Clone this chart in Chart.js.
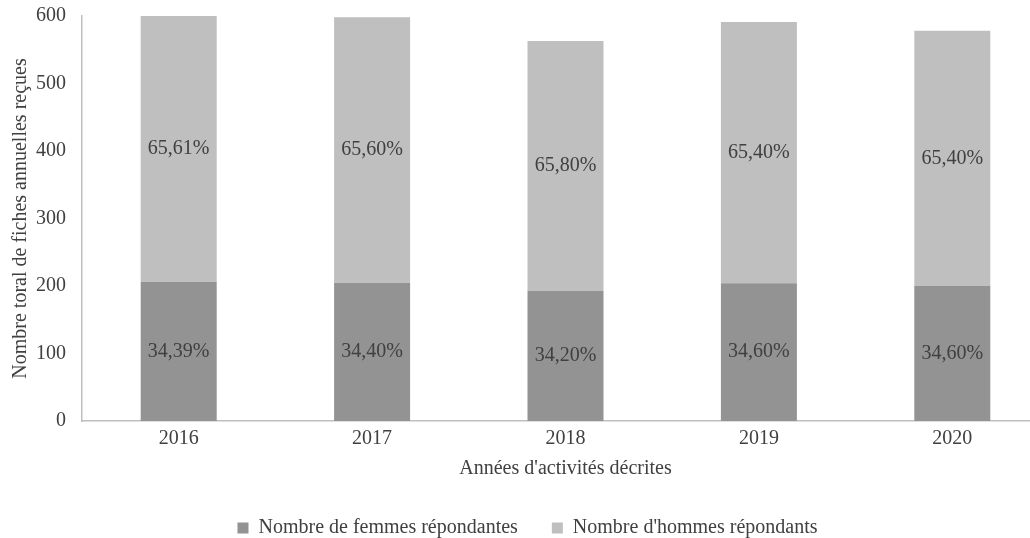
<!DOCTYPE html>
<html>
<head>
<meta charset="utf-8">
<script src="https://cdn.jsdelivr.net/npm/chart.js@4"></script>
<style>
	html, body { margin: 0; padding: 0; background: #fff; overflow: hidden; }
	#wrap { width: 1055px; height: 538px; }
</style>
</head>
<body>
<div id="wrap"><canvas id="myChart"></canvas></div>
<script>
const years = ['2016', '2017', '2018', '2019', '2020']
const femmes = [206, 205, 193, 204, 200]
const hommes = [394, 393, 370, 387, 378]
const femmesPct = ['34,39%', '34,40%', '34,20%', '34,60%', '34,60%']
const hommesPct = ['65,61%', '65,60%', '65,80%', '65,40%', '65,40%']
const yTicks = [0, 100, 200, 300, 400, 500, 600]

const textColor = '#404040'
const serif = 'Liberation Serif'

Chart.defaults.font.family = serif
Chart.defaults.font.size = 20
Chart.defaults.color = textColor

// draws the percentage in the middle of each bar segment
const segmentLabels = {
	id: 'segmentLabels',
	afterDatasetsDraw(chart) {
		const ctx = chart.ctx
		const texts = [femmesPct, hommesPct]
		ctx.save()
		ctx.font = '20px ' + serif
		ctx.fillStyle = textColor
		ctx.textAlign = 'center'
		ctx.textBaseline = 'middle'
		chart.data.datasets.forEach((ds, i) => {
			chart.getDatasetMeta(i).data.forEach((bar, j) => {
				ctx.fillText(texts[i][j], bar.x, (bar.y + bar.base) / 2)
			})
		})
		ctx.restore()
	},
}

const ctx1 = document.getElementById('myChart')

new Chart(ctx1, {
	type: 'bar',
	data: {
		labels: years,
		datasets: [
			{
				label: 'Nombre de femmes répondantes',
				data: femmes,
				backgroundColor: '#939393',
				barPercentage: 0.393,
				categoryPercentage: 1,
			},
			{
				label: "Nombre d'hommes répondants",
				data: hommes,
				backgroundColor: '#bfbfbf',
				barPercentage: 0.393,
				categoryPercentage: 1,
			},
		],
	},
	options: {
		responsive: true,
		maintainAspectRatio: false,
		animation: false,
		layout: {
			padding: { top: 16, left: 0, right: 0, bottom: -10 },
		},
		scales: {
			x: {
				stacked: true,
				grid: { display: false, drawTicks: false },
				border: { color: '#bfbfbf', width: 1.5 },
				ticks: { padding: 6, color: textColor },
				title: {
					display: true,
					text: "Années d'activités décrites",
					color: textColor,
					padding: { top: 0, bottom: 3 },
				},
			},
			y: {
				stacked: true,
				min: 0,
				max: 600,
				grid: { display: false, drawTicks: false },
				border: { color: '#bfbfbf', width: 1.5 },
				afterBuildTicks(scale) {
					scale.ticks = yTicks.map((v) => ({ value: v }))
				},
				afterFit(scale) {
					scale.width = 82
					scale.paddingTop = 0
					scale.paddingBottom = 0
				},
				ticks: { padding: 16, color: textColor },
				title: {
					display: true,
					text: 'Nombre toral de fiches annuelles reçues',
					color: textColor,
					padding: { top: 9, bottom: 0 },
				},
			},
			// thin empty axis on the right, the picture is cut just past the last bar
			yRight: {
				position: 'right',
				display: true,
				grid: { display: false },
				border: { display: false },
				ticks: { display: false },
				afterFit(scale) {
					scale.width = 6
					scale.paddingTop = 0
					scale.paddingBottom = 0
				},
			},
		},
		plugins: {
			legend: {
				position: 'bottom',
				labels: {
					boxWidth: 11,
					boxHeight: 11,
					padding: 34,
					color: textColor,
				},
			},
			tooltip: { enabled: false },
		},
	},
	plugins: [segmentLabels],
})
</script>
</body>
</html>
